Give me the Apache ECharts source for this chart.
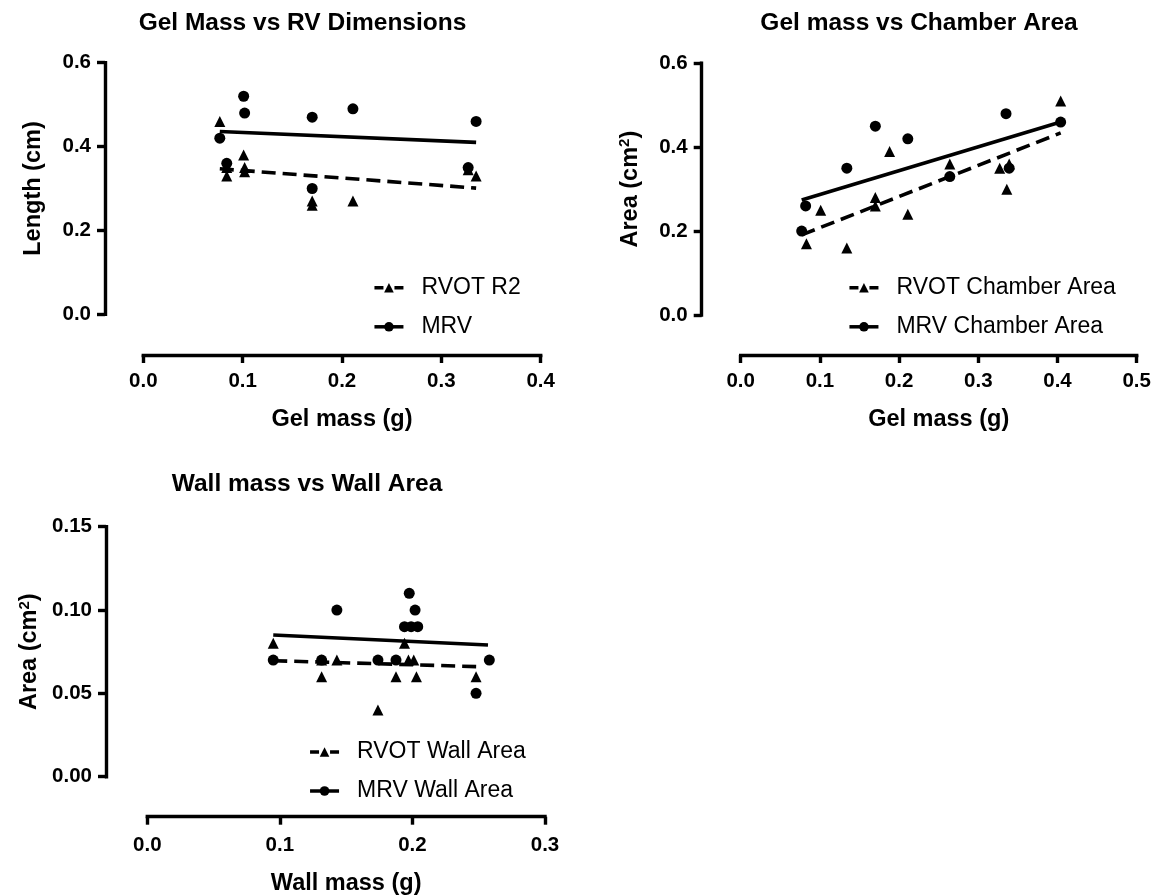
<!DOCTYPE html>
<html><head><meta charset="utf-8">
<script src="https://cdn.jsdelivr.net/npm/echarts@6/dist/echarts.min.js"></script>
<style>html,body{margin:0;padding:0;background:#fff}#c{width:1170px;height:896px}</style>
</head><body><div id="c"></div><script>
// ---------- Data ----------
// Chart 1: Gel Mass vs RV Dimensions
const rvotR2X = [0.077, 0.084, 0.084, 0.101, 0.102, 0.102, 0.170, 0.170, 0.211, 0.327, 0.335];
const rvotR2Y = [0.46, 0.35, 0.33, 0.38, 0.34, 0.35, 0.27, 0.26, 0.27, 0.345, 0.33];
const mrvX    = [0.077, 0.084, 0.101, 0.102, 0.170, 0.170, 0.211, 0.327, 0.335];
const mrvY    = [0.42, 0.36, 0.52, 0.48, 0.47, 0.30, 0.49, 0.35, 0.46];
const rvotR2FitX = [0.077, 0.335];
const rvotR2FitY = [0.347, 0.301];
const mrvFitX = [0.077, 0.335];
const mrvFitY = [0.436, 0.410];

// Chart 2: Gel mass vs Chamber Area
const rvotChX = [0.083, 0.101, 0.134, 0.170, 0.170, 0.188, 0.211, 0.264, 0.327, 0.336, 0.339, 0.404];
const rvotChY = [0.17, 0.25, 0.16, 0.28, 0.26, 0.39, 0.24, 0.36, 0.35, 0.30, 0.36, 0.51];
const mrvChX  = [0.077, 0.082, 0.134, 0.170, 0.211, 0.264, 0.335, 0.339, 0.404];
const mrvChY  = [0.20, 0.26, 0.35, 0.45, 0.42, 0.33, 0.48, 0.35, 0.46];
const rvotChFitX = [0.077, 0.404];
const rvotChFitY = [0.191, 0.434];
const mrvChFitX = [0.077, 0.404];
const mrvChFitY = [0.274, 0.460];

// Chart 3: Wall mass vs Wall Area
const rvotWallX = [0.095, 0.1315, 0.1315, 0.143, 0.174, 0.1876, 0.194, 0.197, 0.201, 0.203, 0.248];
const rvotWallY = [0.08, 0.07, 0.06, 0.07, 0.04, 0.06, 0.08, 0.07, 0.07, 0.06, 0.06];
const mrvWallX  = [0.095, 0.1315, 0.143, 0.174, 0.1876, 0.1976, 0.194, 0.199, 0.204, 0.202, 0.248, 0.258];
const mrvWallY  = [0.07, 0.07, 0.10, 0.07, 0.07, 0.11, 0.09, 0.09, 0.09, 0.10, 0.05, 0.07];
const rvotWallFitX = [0.095, 0.251];
const rvotWallFitY = [0.0696, 0.066];
const mrvWallFitX = [0.095, 0.257];
const mrvWallFitY = [0.085, 0.079];

const titles = ['Gel Mass vs RV Dimensions', 'Gel mass vs Chamber Area', 'Wall mass vs Wall Area'];
const xNames = ['Gel mass (g)', 'Gel mass (g)', 'Wall mass (g)'];
const seriesNames = [
  ['RVOT R2', 'MRV'],
  ['RVOT Chamber Area', 'MRV Chamber Area'],
  ['RVOT Wall Area', 'MRV Wall Area']
];

// ---------- Helpers ----------
const FONT = '"Liberation Sans", Arial, sans-serif';
const zip = (xs, ys) => xs.map((x, i) => [x, ys[i]]);
const DASH = [14, 7];

function xAx(gi, max, interval, dec, name, offset, margin, gap) {
  return {
    type: 'value', gridIndex: gi, min: 0, max: max, interval: interval, position: 'bottom', offset: offset,
    axisLine: { show: true, onZero: false, lineStyle: { color: '#000', width: 3.4, cap: 'square' } },
    axisTick: { show: true, length: 8, lineStyle: { color: '#000', width: 3.4 } },
    axisLabel: { color: '#000', fontFamily: FONT, fontWeight: 'bold', fontSize: 20.5, margin: margin,
      formatter: v => v.toFixed(dec) },
    splitLine: { show: false },
    name: name, nameLocation: 'middle', nameGap: gap,
    nameTextStyle: { color: '#000', fontFamily: FONT, fontWeight: 'bold', fontSize: 23.5 }
  };
}
function yAx(gi, max, interval, dec, name, offset, gap) {
  return {
    type: 'value', gridIndex: gi, min: 0, max: max, interval: interval, position: 'left', offset: offset,
    axisLine: { show: true, onZero: false, lineStyle: { color: '#000', width: 3.4, cap: 'square' } },
    axisTick: { show: true, length: 8, lineStyle: { color: '#000', width: 3.4 } },
    axisLabel: { color: '#000', fontFamily: FONT, fontWeight: 'bold', fontSize: 20.5, margin: 14,
      formatter: v => v.toFixed(dec) },
    splitLine: { show: false },
    name: name, nameLocation: 'middle', nameGap: gap,
    nameTextStyle: { color: '#000', fontFamily: FONT, fontWeight: 'bold', fontSize: 23.5,
      rich: { a: { fontFamily: FONT, fontWeight: 'bold', fontSize: 23.5, color: '#000' },
              s: { fontFamily: FONT, fontWeight: 'bold', fontSize: 15, color: '#000', padding: [0, 0, 11, 0] } } }
  };
}
function scatter(gi, name, sym, data) {
  return { type: 'scatter', name: name, xAxisIndex: gi, yAxisIndex: gi, data: data,
    symbol: sym, symbolSize: 11, itemStyle: { color: '#000', opacity: 1 }, silent: true, z: 3 };
}
function fit(gi, name, sym, dashed, data) {
  return { type: 'line', name: name, xAxisIndex: gi, yAxisIndex: gi, data: data,
    symbol: sym, showSymbol: false, symbolSize: 10,
    itemStyle: { color: '#000', opacity: 1 },
    lineStyle: { color: '#000', width: 3.6, type: dashed ? DASH : 'solid' }, silent: true, z: 2 };
}
function legend(left, top, names) {
  return {
    orient: 'vertical', left: left, top: top, padding: 0, itemGap: 15,
    itemWidth: 29, itemHeight: 12, selectedMode: false,
    textStyle: { color: '#000', fontFamily: FONT, fontSize: 23, lineHeight: 24, padding: [0, 0, 0, 13] },
    data: [
      { name: names[0], itemStyle: { color: '#000', opacity: 1 }, lineStyle: { color: '#000', width: 3.5, type: [9, 11] } },
      { name: names[1], itemStyle: { color: '#000', opacity: 1 }, lineStyle: { color: '#000', width: 3.5, type: 'solid' } }
    ]
  };
}
function title(text, cx, top) {
  return { text: text, left: cx, top: top, textAlign: 'center', padding: 0,
    textStyle: { color: '#000', fontFamily: FONT, fontWeight: 'bold', fontSize: 24.5 } };
}

const chart = echarts.init(document.getElementById('c'), null, { renderer: 'canvas' });
chart.setOption({
  backgroundColor: '#fff',
  animation: false,
  title: [title(titles[0], 302.5, 11), title(titles[1], 919, 11), title(titles[2], 307, 472)],
  grid: [
    { left: 143.3, top: 62.7, width: 397.4, height: 251.6, containLabel: false, outerBoundsMode: 'none' },
    { left: 740.7, top: 63.3, width: 396, height: 251.7, containLabel: false, outerBoundsMode: 'none' },
    { left: 147.3, top: 526.7, width: 397.7, height: 250, containLabel: false, outerBoundsMode: 'none' }
  ],
  xAxis: [
    xAx(0, 0.4, 0.1, 1, xNames[0], 40.7, 16, 53),
    xAx(1, 0.5, 0.1, 1, xNames[1], 40, 16, 53),
    xAx(2, 0.3, 0.1, 1, xNames[2], 40, 18, 55)
  ],
  yAxis: [
    yAx(0, 0.6, 0.2, 1, 'Length (cm)', 38.3, 59),
    yAx(1, 0.6, 0.2, 1, '{a|Area (cm}{s|2}{a|)}', 39, 58),
    yAx(2, 0.15, 0.05, 2, '{a|Area (cm}{s|2}{a|)}', 41.3, 63)
  ],
  legend: [
    legend(372.7, 275.8, seriesNames[0]),
    legend(847.7, 275.8, seriesNames[1]),
    legend(308.3, 740, seriesNames[2])
  ],
  series: [
    scatter(0, 'pts-rvot-r2', 'triangle', zip(rvotR2X, rvotR2Y)),
    scatter(0, 'pts-mrv', 'circle', zip(mrvX, mrvY)),
    fit(0, seriesNames[0][0], 'triangle', true, zip(rvotR2FitX, rvotR2FitY)),
    fit(0, seriesNames[0][1], 'circle', false, zip(mrvFitX, mrvFitY)),

    scatter(1, 'pts-rvot-ch', 'triangle', zip(rvotChX, rvotChY)),
    scatter(1, 'pts-mrv-ch', 'circle', zip(mrvChX, mrvChY)),
    fit(1, seriesNames[1][0], 'triangle', true, zip(rvotChFitX, rvotChFitY)),
    fit(1, seriesNames[1][1], 'circle', false, zip(mrvChFitX, mrvChFitY)),

    scatter(2, 'pts-rvot-wall', 'triangle', zip(rvotWallX, rvotWallY)),
    scatter(2, 'pts-mrv-wall', 'circle', zip(mrvWallX, mrvWallY)),
    fit(2, seriesNames[2][0], 'triangle', true, zip(rvotWallFitX, rvotWallFitY)),
    fit(2, seriesNames[2][1], 'circle', false, zip(mrvWallFitX, mrvWallFitY))
  ]
});
</script></body></html>
